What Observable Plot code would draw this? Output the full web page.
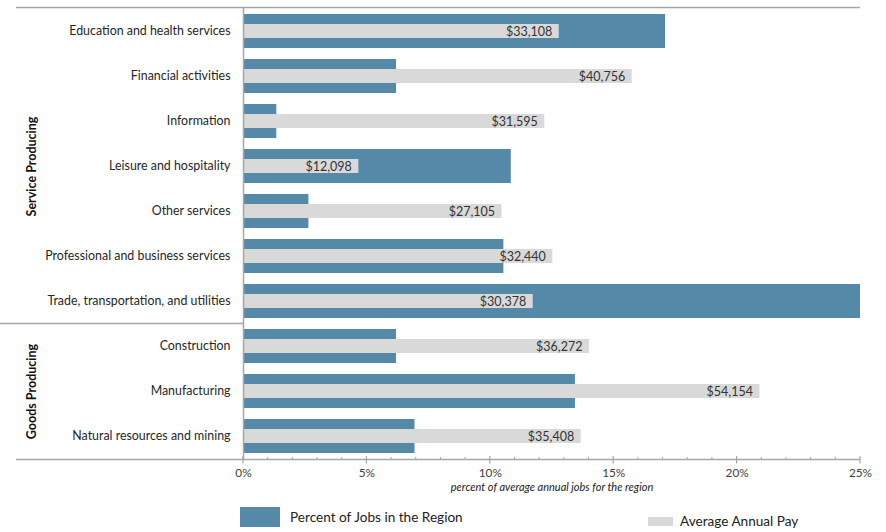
<!DOCTYPE html>
<html>
<head>
<meta charset="utf-8">
<script src="https://cdn.jsdelivr.net/npm/d3@7"></script>
<script src="https://cdn.jsdelivr.net/npm/@observablehq/plot@0.6"></script>
<style>
  html, body { margin: 0; padding: 0; background: #fff; }
  #wrap { position: relative; width: 886px; height: 532px; font-family: Lato, "Open Sans", sans-serif; }
  #legend { position: absolute; left: 0; top: 500px; width: 886px; height: 32px; color: #222; font-size: 13.6px; }
  .sw { position: absolute; }
  .lt { position: absolute; white-space: nowrap; }
</style>
</head>
<body>
<div id="wrap">
  <div id="chart"></div>
  <div id="legend">
    <div class="sw" style="left:240px;top:7px;width:40px;height:20px;background:#5589a8"></div>
    <div class="lt" style="left:290px;top:9px;">Percent of Jobs in the Region</div>
    <div class="sw" style="left:648px;top:17px;width:25px;height:9px;background:#d9d9d9"></div>
    <div class="lt" style="left:680px;top:13px;">Average Annual Pay</div>
  </div>
</div>
<script>
const categories = [
  "Education and health services",
  "Financial activities",
  "Information",
  "Leisure and hospitality",
  "Other services",
  "Professional and business services",
  "Trade, transportation, and utilities",
  "Construction",
  "Manufacturing",
  "Natural resources and mining"
];
const groups = ["Service Producing","Service Producing","Service Producing","Service Producing","Service Producing","Service Producing","Service Producing","Goods Producing","Goods Producing","Goods Producing"];
const groupNames = ["Service Producing", "Goods Producing"];
const jobsPct = [17.1, 6.2, 1.35, 10.85, 2.65, 10.55, 25.0, 6.2, 13.45, 6.95];
const avgPay = [33108, 40756, 31595, 12098, 27105, 32440, 30378, 36272, 54154, 35408];
const xTicks = [0, 5, 10, 15, 20, 25];
const xMinorTicks = d3.range(0, 26, 1);
const payAxisMax = 64700; // hidden secondary axis maximum
const xLabel = "percent of average annual jobs for the region";

const rows = categories.map((c, i) => ({
  category: c, group: groups[i], pct: jobsPct[i], pay: avgPay[i],
  payOnAxis: avgPay[i] / payAxisMax * 25
}));
const groupLabelRows = groupNames.map(g => {
  const members = rows.filter(r => r.group === g);
  return {group: g, category: members[Math.floor(members.length / 2)].category};
});

const blue = "#5589a8", grey = "#d9d9d9", axisGrey = "#a6a6a6";

const plot = Plot.plot({
  width: 886,
  height: 500,
  marginLeft: 243,
  marginRight: 26,
  marginTop: 7.4,
  marginBottom: 40.6,
  style: {fontFamily: "Lato, 'Open Sans', sans-serif", background: "#fff"},
  x: {domain: [0, 25]},
  y: {domain: categories, paddingInner: 0.25, paddingOuter: 0.125},
  marks: [
    Plot.barX(rows, {y: "category", x: "pct", fill: blue}),
    Plot.barX(rows, {y: "category", x: "payOnAxis", fill: grey, insetTop: 10, insetBottom: 10}),
    Plot.text(rows, {y: "category", x: "payOnAxis", text: d => d3.format("$,")(d.pay), textAnchor: "end", dx: -7, fill: "#333", fontSize: 12.5}),
    Plot.ruleX([0], {stroke: axisGrey, strokeWidth: 1.5}),
    Plot.axisY({tickSize: 0, tickPadding: 13, fontSize: 12.4, color: "#262626", label: null}),
    Plot.axisX({ticks: xTicks, tickFormat: d => d + "%", tickSize: 0, tickPadding: 9, fontSize: 11.8, color: "#404040", label: null}),
    Plot.text([xLabel], {frameAnchor: "bottom", dy: 31, fontStyle: "italic", fontSize: 11, fill: "#222"}),
    Plot.text(groupLabelRows, {y: "category", text: "group", frameAnchor: "left", textAnchor: "middle", dx: -212, rotate: -90, fontWeight: "bold", fontSize: 12.5, fill: "#111"})
  ]
});

document.getElementById("chart").appendChild(plot);

// Decorative frame lines drawn through the plot's own scales
const xs = plot.scale("x"), ys = plot.scale("y");
const svg = d3.select(plot);
const yTop = ys.range[0], yBottom = ys.range[1];
const xRight = xs.apply(25);
const g = svg.append("g").attr("stroke", axisGrey).attr("fill", "none");
g.append("line").attr("x1", 16).attr("x2", xRight).attr("y1", yTop).attr("y2", yTop).attr("stroke-width", 1.5);
g.append("line").attr("x1", 16).attr("x2", xRight).attr("y1", yBottom).attr("y2", yBottom).attr("stroke-width", 1.5);
xTicks.forEach(t => {
  const x = xs.apply(t);
  g.append("line").attr("x1", x).attr("x2", x).attr("y1", yBottom - 3.5).attr("y2", yBottom + 4).attr("stroke-width", 1.2);
});
xMinorTicks.filter(t => !xTicks.includes(t)).forEach(t => {
  const x = xs.apply(t);
  g.append("line").attr("x1", x).attr("x2", x).attr("y1", yBottom - 2.5).attr("y2", yBottom).attr("stroke-width", 1);
});
// separator between groups
const lastService = rows.filter(r => r.group === groupNames[0]).pop().category;
const firstGoods = rows.find(r => r.group === groupNames[1]).category;
const sepY = (ys.apply(lastService) + ys.bandwidth + ys.apply(firstGoods)) / 2;
g.append("line").attr("x1", 0).attr("x2", xs.apply(0)).attr("y1", sepY).attr("y2", sepY).attr("stroke-width", 1.5);
</script>
</body>
</html>
